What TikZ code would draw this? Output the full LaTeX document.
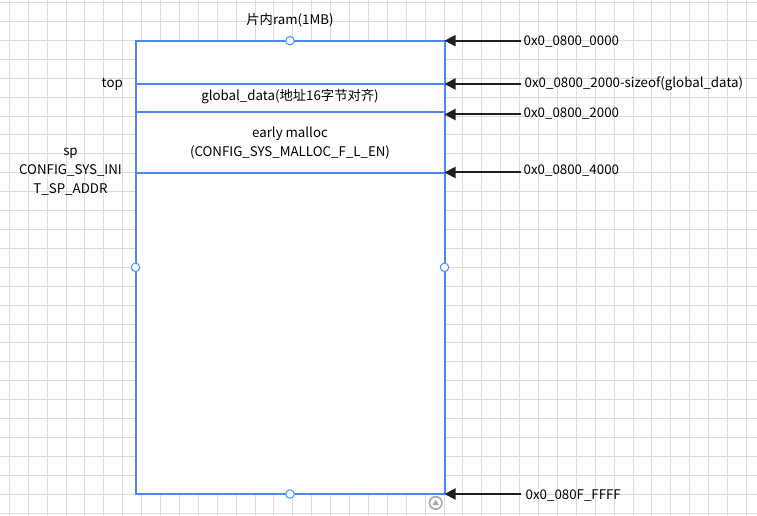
\documentclass[tikz,border=0pt]{standalone}
\usepackage{fontspec}
\setmainfont{Noto Sans CJK SC}
\usetikzlibrary{arrows.meta}
\definecolor{selblue}{HTML}{4D87F7}
\definecolor{hblue}{HTML}{3C96FF}
\definecolor{gridc}{HTML}{DCDCDC}
\definecolor{rotgray}{HTML}{A8A8A8}
\begin{document}
\begin{tikzpicture}[x=1bp,y=-1bp,
  txt/.style={font=\fontsize{13.3bp}{16bp}\selectfont, inner sep=0pt, text=black},
  ramrect/.style={draw=selblue, fill=white, line width=2bp, inner sep=0pt, outer sep=0pt, anchor=north west},
  divider/.style={draw=selblue, line width=2bp},
  handle/.style={circle, draw=hblue, fill=white, line width=1bp, minimum size=8.5bp, inner sep=0pt},
  arr/.style={draw=black!88, line width=2bp, -{Triangle[length=11bp,width=11bp]}}
]
\useasboundingbox (0,0) rectangle (757,516);
\fill[white] (0,0) rectangle (757,516);
% grid
\foreach \i in {0,...,39} \draw[gridc, line width=1bp] ({9.3+18.9*\i},0) -- ++(0,516);
\foreach \j in {0,...,27} \draw[gridc, line width=1bp] (0,{2.7+18.9*\j}) -- ++(757,0);

% main block
\node[ramrect, minimum width=309bp, minimum height=453.3bp] (ram) at (135.5,40.7) {};
\coordinate (d1) at (135.5,84.3);
\coordinate (d2) at (135.5,112.3);
\coordinate (d3) at (135.5,173.3);
\draw[divider] (d1) -- (d1 -| ram.east);
\draw[divider] (d2) -- (d2 -| ram.east);
\draw[divider] (d3) -- (d3 -| ram.east);

% selection handles
\node[handle] (hn) at (ram.north) {};
\node[handle] (hs) at (ram.south) {};
\node[handle] (hw) at (ram.west) {};
\node[handle] (he) at (ram.east) {};
\node[circle, draw=rotgray, line width=1.6bp, minimum size=12.5bp, inner sep=0pt] (rot) at (435.7,502.9) {};
\fill[rotgray] ([shift={(-3.3,2.2)}]rot.center) -- ([shift={(3.3,2.2)}]rot.center) -- ([shift={(0,-3.4)}]rot.center) -- cycle;

% texts inside / around
\node[txt, anchor=base] (title) at (290,24.3) {片内ram(1MB)};
\node[txt, anchor=base] (gd) at (290,100.3) {global\_data(地址16字节对齐)};
\node[txt, anchor=base] (em1) at (290,137.7) {early malloc};
\node[txt, anchor=base] (em2) at (290,156.7) {(CONFIG\_SYS\_MALLOC\_F\_L\_EN)};
\node[txt, anchor=base east] (top) at (123,87.5) {top};
\node[txt, anchor=base] (sp1) at (70.5,155.8) {sp};
\node[txt, anchor=base] (sp2) at (70.5,174.8) {CONFIG\_SYS\_INI};
\node[txt, anchor=base] (sp3) at (70.5,193.4) {T\_SP\_ADDR};

% right address labels
\node[txt, anchor=base west] (a0) at (523.5,45.7) {0x0\_0800\_0000};
\node[txt, anchor=base west] (a1) at (524.5,87.8) {0x0\_0800\_2000-sizeof(global\_data)};
\node[txt, anchor=base west] (a2) at (523.5,117.7) {0x0\_0800\_2000};
\node[txt, anchor=base west] (a3) at (523.5,175.0) {0x0\_0800\_4000};
\node[txt, anchor=base west] (a4) at (525.5,499.0) {0x0\_080F\_FFFF};

\coordinate (s0) at (521,40.7);
\coordinate (s1) at (521,84.0);
\coordinate (s2) at (521,114.5);
\coordinate (s3) at (521,172.5);
\coordinate (s4) at (521,494.0);
\draw[arr] (s0) -- (s0 -| ram.east);
\draw[arr] (s1) -- (s1 -| ram.east);
\draw[arr] (s2) -- (s2 -| ram.east);
\draw[arr] (s3) -- (s3 -| ram.east);
\draw[arr] (s4) -- (s4 -| ram.east);
\end{tikzpicture}
\end{document}
